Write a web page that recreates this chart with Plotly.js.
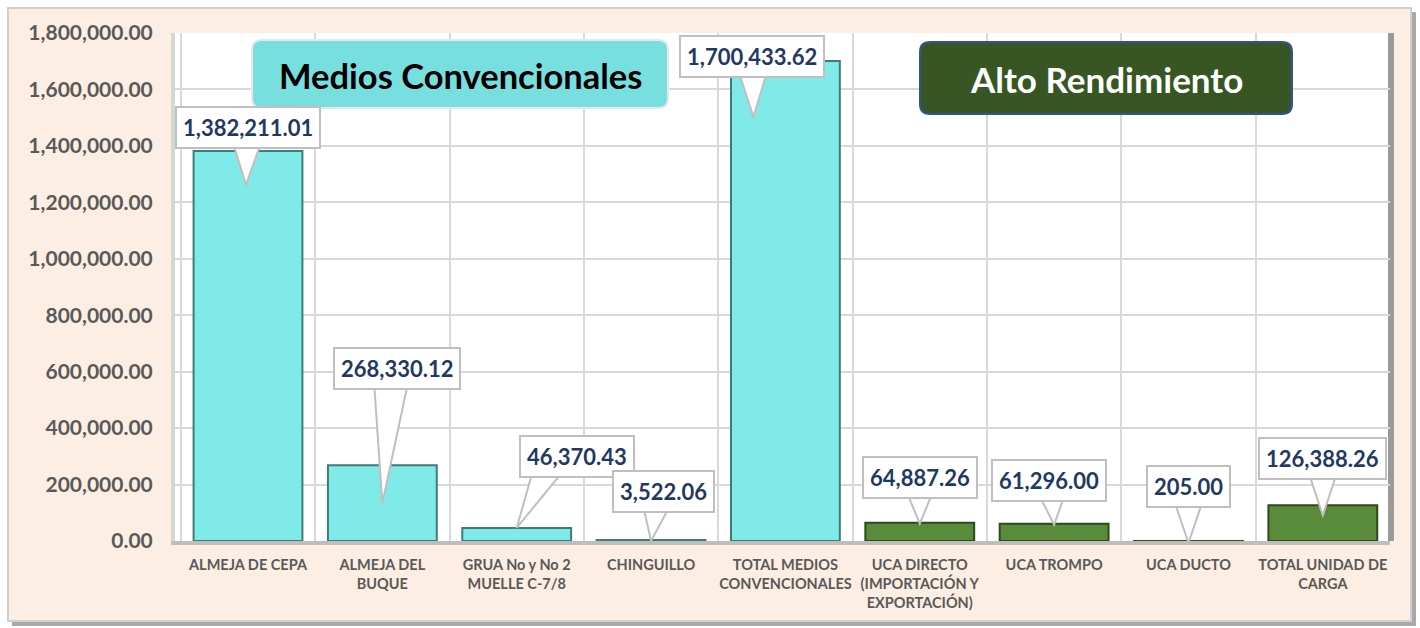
<!DOCTYPE html>
<html><head><meta charset="utf-8">
<script src="https://cdn.plot.ly/plotly-3.0.1.min.js"></script>
<style>html,body{margin:0;padding:0;background:#fff}#chart{width:1420px;height:628px}</style>
</head><body><div id="chart"></div>
<script>
const categories = ["ALMEJA DE CEPA","ALMEJA DEL<br>BUQUE","GRUA No y No 2<br>MUELLE C-7/8","CHINGUILLO","TOTAL MEDIOS<br>CONVENCIONALES","UCA DIRECTO<br>(IMPORTACIÓN Y<br>EXPORTACIÓN)","UCA TROMPO","UCA DUCTO","TOTAL UNIDAD DE<br>CARGA"];
const values = [1382211.01, 268330.12, 46370.43, 3522.06, 1700433.62, 64887.26, 61296.00, 205.00, 126388.26];
const groups = ["conv","conv","conv","conv","conv","alto","alto","alto","alto"];
const titleConv = "Medios Convencionales";
const titleAlto = "Alto Rendimiento";

// styling
const W=1420,H=628, L=175, R=30, T=33, B=87;
const PW=W-L-R, PH=H-T-B;
const FONT="Lato, 'Open Sans', sans-serif";
const fill = {conv:"#80EAE8", alto:"#5A8B3A"};
const edge = {conv:"#3E7C7A", alto:"#2E4A1C"};
// label callout offsets in screen px: box center (dx,dy) & tip (tx,ty) relative to bar top (dy down)
const callout = [
  {dx:0, dy:-23, tx:-2, ty:34},
  {dx:15, dy:-97, tx:0, ty:38},
  {dx:60, dy:-71, tx:0, ty:0},
  {dx:12, dy:-49, tx:0, ty:1},
  {dx:-33, dy:-5, tx:-32, ty:56},
  {dx:0, dy:-45, tx:0, ty:1},
  {dx:-5, dy:-43, tx:0, ty:1},
  {dx:0, dy:-54, tx:0, ty:2},
  {dx:0, dy:-47, tx:0, ty:10}
];
const px2x = p => (p-L)/PW, py2y = p => (H-B-p)/PH;
const fmt = v => v.toLocaleString('en-US',{minimumFractionDigits:2,maximumFractionDigits:2});

const shapes = [];
const annotations = [];
// outer frame
shapes.push({type:'rect',xref:'paper',yref:'paper',x0:px2x(12),x1:px2x(1416),y0:py2y(626),y1:py2y(12),fillcolor:'#A9A9A9',line:{width:0},layer:'below'});
shapes.push({type:'rect',xref:'paper',yref:'paper',x0:px2x(8),x1:px2x(1411),y0:py2y(621),y1:py2y(8),fillcolor:'#FDEEE3',line:{color:'#D0D0D0',width:2},layer:'below'});
// plot area white
shapes.push({type:'rect',xref:'paper',yref:'paper',x0:0,x1:1,y0:0,y1:1,fillcolor:'#FFFFFF',line:{width:0},layer:'below'});
// plot area 3D shadows
shapes.push({type:'rect',xref:'paper',yref:'paper',x0:px2x(1388),x1:px2x(1394),y0:0,y1:1,fillcolor:'#9A9A9A',line:{width:0},layer:'below'});

function roundRect(w,h,r){
  const x0=-w/2,x1=w/2,y0=-h/2,y1=h/2;
  return `M${x0+r},${y0} L${x1-r},${y0} Q${x1},${y0} ${x1},${y0+r} L${x1},${y1-r} Q${x1},${y1} ${x1-r},${y1} L${x0+r},${y1} Q${x0},${y1} ${x0},${y1-r} L${x0},${y0+r} Q${x0},${y0} ${x0+r},${y0} Z`;
}
// title boxes
shapes.push({type:'path',xref:'paper',yref:'paper',xsizemode:'pixel',ysizemode:'pixel',xanchor:px2x(460),yanchor:py2y(74),path:roundRect(416,68,10),fillcolor:'#78DFDF',line:{color:'#E6E6F0',width:2},layer:'above'});
annotations.push({xref:'paper',yref:'paper',x:px2x(460),y:py2y(76),xanchor:'center',yanchor:'middle',text:'<b>'+titleConv+'</b>',showarrow:false,font:{family:FONT,size:34.5,color:'#000'}});
shapes.push({type:'path',xref:'paper',yref:'paper',xsizemode:'pixel',ysizemode:'pixel',xanchor:px2x(1106),yanchor:py2y(78),path:roundRect(372,72,10),fillcolor:'#375623',line:{color:'#2F5597',width:2},layer:'above'});
annotations.push({xref:'paper',yref:'paper',x:px2x(1106),y:py2y(79),xanchor:'center',yanchor:'middle',text:'<b>'+titleAlto+'</b>',showarrow:false,font:{family:FONT,size:35,color:'#fff'}});

// callouts
categories.forEach((c,i)=>{
  const o = callout[i];
  const bx=o.dx, by=-o.dy; // pixel up positive
  const tx=o.tx, ty=-o.ty;
  const baseX = bx + (tx-bx)*0.35;
  const path = `M${baseX-19},${by} L${tx},${ty} L${baseX+19},${by} Z`;
  shapes.push({type:'path',xref:'x',yref:'y',xsizemode:'pixel',ysizemode:'pixel',xanchor:c,yanchor:values[i],path:path,fillcolor:'#FFFFFF',line:{color:'#BFBFBF',width:2},layer:'above'});
  annotations.push({x:c,y:values[i],xref:'x',yref:'y',xshift:bx,yshift:by,xanchor:'center',yanchor:'middle',text:'<b>'+fmt(values[i])+'</b>',showarrow:false,bgcolor:'#FFFFFF',bordercolor:'#BFBFBF',borderwidth:2,borderpad:6,font:{family:FONT,size:22,color:'#1F3864'}});
});

const trace = {
  type:'bar', x:categories, y:values,
  marker:{color:groups.map(g=>fill[g]), line:{color:groups.map(g=>edge[g]),width:2}},
  hoverinfo:'none'
};

const layout = {
  width:W,height:H,margin:{l:L,r:R,t:T,b:B,pad:0},
  paper_bgcolor:'#FFFFFF', plot_bgcolor:'rgba(0,0,0,0)',
  bargap:0.19, showlegend:false,
  xaxis:{type:'category',tickson:'boundaries',showgrid:true,gridcolor:'#D9D9D9',gridwidth:2,ticks:'',showline:true,linecolor:'#BEBEBE',linewidth:4,
    tickfont:{family:FONT,size:14.5,color:'#595959',weight:'bold'},ticklabelstandoff:8,tickangle:0},
  yaxis:{range:[0,1800000],dtick:200000,tickformat:',.2f',showgrid:true,gridcolor:'#D9D9D9',gridwidth:2,zeroline:false,showline:true,linecolor:'#D6D6D6',linewidth:4,
    tickfont:{family:FONT,size:21,color:'#595959',weight:'bold'},ticklabelstandoff:14},
  shapes:shapes, annotations:annotations
};
Plotly.newPlot('chart',[trace],layout,{displayModeBar:false,staticPlot:true});
</script></body></html>
